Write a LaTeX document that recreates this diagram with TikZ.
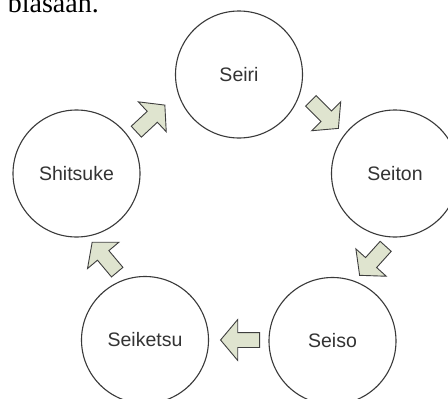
\documentclass[tikz,border=0pt]{standalone}
\usepackage{fontspec}
\setmainfont{Liberation Sans}
\newfontfamily\serifbody{Liberation Serif}
\usetikzlibrary{shapes.arrows}
\definecolor{arrfill}{HTML}{DFE4CF}
\definecolor{arrline}{HTML}{3E3E3E}
\definecolor{circline}{HTML}{3A3A3A}
\definecolor{labeltxt}{HTML}{333333}
\tikzset{
  stepcircle/.style={circle, draw=circline, line width=1.1pt, minimum size=127pt, inner sep=0pt,
    font=\fontsize{19.5}{22}\selectfont, text=labeltxt},
  blockarr/.style={single arrow, draw=arrline, fill=arrfill, line width=0.9pt,
    minimum height=39pt, inner sep=7pt, single arrow head extend=13pt,
    single arrow tip angle=100, anchor=tail}
}
\begin{document}
\begin{tikzpicture}[x=1pt,y=-1pt]
\useasboundingbox (0,0) rectangle (448,399);
\fill[white] (0,0) rectangle (448,399);
% cut-off text line above the figure
\node[anchor=base east, inner sep=0pt, font=\serifbody\fontsize{28}{30}\selectfont] (prevline) at (99,12.5) {biasaan.};
% the five steps
\node[stepcircle] (seiri) at (239,74.5) {Seiri};
\node[stepcircle] (seiton) at (395,173.5) {Seiton};
\node[stepcircle] (seiso) at (332.5,341) {Seiso};
\node[stepcircle] (seiketsu) at (145,340) {Seiketsu};
\node[stepcircle] (shitsuke) at (76.5,173.5) {Shitsuke};
% block arrows between the steps
\node[blockarr, rotate=43] (a1) at (136,132) {};
\node[blockarr, rotate=-45] (a2) at (310.5,100.5) {};
\node[blockarr, rotate=-132] (a3) at (386,246) {};
\node[blockarr, rotate=180] (a4) at (260,340) {};
\node[blockarr, rotate=130] (a5) at (117.5,272.5) {};
\end{tikzpicture}
\end{document}
